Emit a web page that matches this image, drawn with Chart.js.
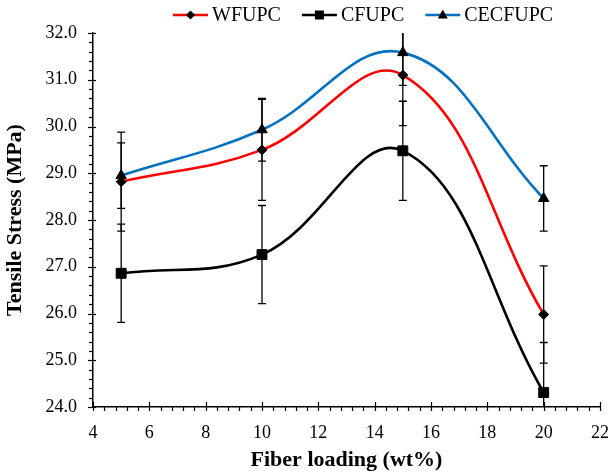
<!DOCTYPE html>
<html>
<head>
<meta charset="utf-8">
<script src="https://cdn.jsdelivr.net/npm/chart.js@4/dist/chart.umd.min.js"></script>
<style>
  html, body { margin: 0; padding: 0; background: #fff; }
  #wrap { width: 609px; height: 475px; }
</style>
</head>
<body>
<div id="wrap"><canvas id="chart" width="609" height="475"></canvas></div>
<script>
// fiber loading (wt%) and tensile stress (MPa)
const loading = [5, 10, 15, 20];
const seriesNames = ['WFUPC', 'CFUPC', 'CECFUPC'];
const wfupc = [28.82, 29.5, 31.1, 25.98];
const cfupc = [26.86, 27.26, 29.48, 24.31];
const cecfupc = [28.95, 29.93, 31.58, 28.46];
// error bar half-widths
const wfupcErr = [1.06, 1.08, 1.08, 1.04];
const cfupcErr = [1.05, 1.05, 1.06, 1.07];
const cecfupcErr = [0.7, 0.67, 0.7, 0.7];

const lineColors = ['#ff0000', '#000000', '#0070c0'];
const markers = ['rectRot', 'rect', 'triangle'];
const markerSizes = [5, 7, 6];

Chart.defaults.font.family = '"Liberation Serif", "Times New Roman", serif';
Chart.defaults.color = '#000';

function makeSet(i, vals, errs) {
  return {
    label: seriesNames[i],
    data: loading.map((x, k) => ({ x: x, y: vals[k] })),
    errors: errs,
    borderColor: lineColors[i],
    borderWidth: 2.6,
    tension: 0.4,
    fill: false,
    pointStyle: markers[i],
    pointRadius: markerSizes[i],
    pointBackgroundColor: '#000',
    pointBorderColor: '#000',
    pointBorderWidth: 1
  };
}

function legendMarker(ctx, type, x, y) {
  ctx.beginPath();
  if (type === 'rectRot') {
    ctx.moveTo(x, y - 4.5); ctx.lineTo(x + 4.5, y); ctx.lineTo(x, y + 4.5); ctx.lineTo(x - 4.5, y);
  } else if (type === 'rect') {
    ctx.rect(x - 4.5, y - 4.5, 9, 9);
  } else {
    ctx.moveTo(x, y - 5.5); ctx.lineTo(x + 5, y + 3.5); ctx.lineTo(x - 5, y + 3.5);
  }
  ctx.closePath();
  ctx.fill();
}

const extras = {
  id: 'extras',
  beforeDatasetsDraw(chart) {
    const { ctx, chartArea, scales: { x, y } } = chart;
    ctx.save();
    ctx.beginPath();
    ctx.rect(chartArea.left - 5, chartArea.top, chartArea.width + 10, chartArea.height);
    ctx.clip();
    ctx.strokeStyle = '#000';
    ctx.lineWidth = 1.3;
    chart.data.datasets.forEach(ds => {
      ds.data.forEach((p, i) => {
        const e = ds.errors[i];
        const px = x.getPixelForValue(p.x);
        const top = y.getPixelForValue(p.y + e);
        const bot = y.getPixelForValue(p.y - e);
        ctx.beginPath();
        ctx.moveTo(px, top); ctx.lineTo(px, bot);
        ctx.moveTo(px - 4, top); ctx.lineTo(px + 4, top);
        ctx.moveTo(px - 4, bot); ctx.lineTo(px + 4, bot);
        ctx.stroke();
      });
    });
    ctx.restore();
  },
  afterDraw(chart) {
    const { ctx, chartArea, scales: { x, y } } = chart;
    ctx.save();
    ctx.strokeStyle = '#000';
    ctx.lineWidth = 1.2;
    // y ticks: major every 1, minor every 0.2
    for (let i = 0; i <= 40; i++) {
      const py = Math.round(y.getPixelForValue(24 + i * 0.2)) + 0.5;
      const major = i % 5 === 0;
      ctx.beginPath();
      ctx.moveTo(chartArea.left - (major ? 5 : 4), py);
      ctx.lineTo(chartArea.left + (major ? 3 : 0), py);
      ctx.stroke();
    }
    // x ticks: major every 2, minor every 0.4
    for (let i = 0; i <= 45; i++) {
      const px = Math.round(x.getPixelForValue(4 + i * 0.4)) + 0.5;
      const major = i % 5 === 0;
      ctx.beginPath();
      ctx.moveTo(px, chartArea.bottom - (major ? 5 : 0));
      ctx.lineTo(px, chartArea.bottom + 4);
      ctx.stroke();
    }
    // legend: line with marker, then name
    ctx.font = '20px "Liberation Serif", "Times New Roman", serif';
    ctx.textBaseline = 'middle';
    ctx.textAlign = 'left';
    let lx = 173;
    const ly = 15;
    chart.data.datasets.forEach((ds, i) => {
      ctx.strokeStyle = lineColors[i];
      ctx.lineWidth = 2.6;
      ctx.beginPath();
      ctx.moveTo(lx, ly); ctx.lineTo(lx + 35, ly);
      ctx.stroke();
      ctx.fillStyle = '#000';
      legendMarker(ctx, markers[i], lx + 17.5, ly);
      ctx.fillText(ds.label, lx + 39, ly + 1);
      lx += 39 + ctx.measureText(ds.label).width + 21;
    });
    ctx.restore();
  }
};

new Chart(document.getElementById('chart'), {
  type: 'line',
  data: {
    datasets: [
      makeSet(0, wfupc, wfupcErr),
      makeSet(1, cfupc, cfupcErr),
      makeSet(2, cecfupc, cecfupcErr)
    ]
  },
  options: {
    responsive: false,
    animation: false,
    layout: { padding: { top: 33, right: 9, bottom: 0, left: 0 } },
    plugins: { legend: { display: false }, tooltip: { enabled: false } },
    scales: {
      x: {
        type: 'linear',
        min: 4,
        max: 22,
        ticks: { stepSize: 2, padding: 15, font: { size: 18 }, color: '#000' },
        grid: { display: true, drawOnChartArea: false, drawTicks: false },
        border: { display: true, color: '#000', width: 1.5 },
        title: {
          display: true,
          text: 'Fiber loading (wt%)',
          font: { size: 22, weight: 'bold' },
          color: '#000',
          padding: { top: 0, bottom: 1 }
        },
        afterFit(s) { s.height = 68; s.paddingLeft = 0; s.paddingRight = 0; }
      },
      y: {
        min: 24,
        max: 32,
        ticks: {
          stepSize: 1,
          padding: 16,
          font: { size: 18 },
          color: '#000',
          callback: v => v.toFixed(1)
        },
        grid: { display: true, drawOnChartArea: false, drawTicks: false },
        border: { display: true, color: '#000', width: 1.5 },
        title: {
          display: true,
          text: 'Tensile Stress (MPa)',
          font: { size: 22, weight: 'bold' },
          color: '#000',
          padding: { top: 2, bottom: 0 }
        },
        afterFit(s) { s.width = 93; s.paddingTop = 0; s.paddingBottom = 0; }
      }
    }
  },
  plugins: [extras]
});
</script>
</body>
</html>
